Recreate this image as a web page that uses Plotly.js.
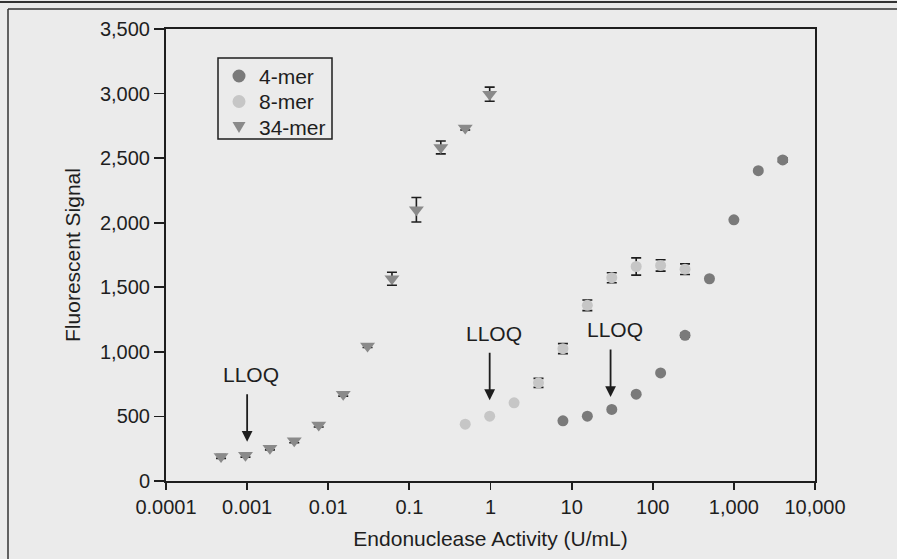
<!DOCTYPE html>
<html>
<head>
<meta charset="utf-8">
<script src="https://cdn.plot.ly/plotly-3.0.1.min.js"></script>
<style>html,body{margin:0;padding:0;background:#ebebeb;}</style>
</head>
<body>
<div id="chart" style="width:897px;height:559px;"></div>
<script>
// Dilution series (U/mL)
const x4mer = [7.8125, 15.625, 31.25, 62.5, 125, 250, 500, 1000, 2000, 4000];
const y4mer = [466, 502, 554, 672, 837, 1128, 1566, 2022, 2403, 2486];
const e4mer = [null, null, null, null, null, 15, null, null, null, 15];

const x8mer = [0.488, 0.977, 1.953, 3.906, 7.8125, 15.625, 31.25, 62.5, 125, 250];
const y8mer = [440, 502, 605, 760, 1025, 1360, 1574, 1661, 1669, 1640];
const e8mer = [null, null, null, 35, 39, 41, 39, 67, 44, 41];

const x34mer = [0.000477, 0.000954, 0.00191, 0.00381, 0.00763, 0.0153, 0.0305, 0.061, 0.122, 0.244, 0.488, 0.977];
const y34mer = [190, 200, 253, 311, 433, 672, 1046, 1566, 2100, 2583, 2733, 2995];
const e34mer = [15, 15, 12, 15, 15, 15, 12, 50, 95, 50, 15, 55];

const seriesNames = ['4-mer', '8-mer', '34-mer'];
const seriesColors = ['#7a7a7a', '#c6c6c6', '#8a8a8a'];

const xTickVals = [0.0001, 0.001, 0.01, 0.1, 1, 10, 100, 1000, 10000];
const xTickText = ['0.0001', '0.001', '0.01', '0.1', '1', '10', '100', '1,000', '10,000'];

// LLOQ markers: x position (U/mL) and arrow tip signal
const lloqX = [0.001, 0.977, 30.2];
const lloqY = [304, 626, 651];
const lloqLabel = ['LLOQ', 'LLOQ', 'LLOQ'];

const FONT = 'Liberation Sans, Arial, Helvetica, sans-serif';
const INK = '#1e1e1e';

function errs(arr) { return {type: 'data', array: arr.map(v => v === null ? NaN : v), visible: true, color: INK, thickness: 1.6, width: 5}; }

const traces = [
  {x: x4mer, y: y4mer, name: seriesNames[0], mode: 'markers', type: 'scatter',
   marker: {symbol: 'circle', size: 11, color: seriesColors[0]}, error_y: errs(e4mer)},
  {x: x8mer, y: y8mer, name: seriesNames[1], mode: 'markers', type: 'scatter',
   marker: {symbol: 'circle', size: 11, color: seriesColors[1]}, error_y: errs(e8mer)},
  {x: x34mer, y: y34mer, name: seriesNames[2], mode: 'markers', type: 'scatter',
   marker: {symbol: 'triangle-down', size: 13, color: seriesColors[2]}, error_y: errs(e34mer)}
];

const annotations = [];
for (let i = 0; i < lloqX.length; i++) {
  annotations.push({x: Math.log10(lloqX[i]), y: lloqY[i], xref: 'x', yref: 'y', text: '',
    showarrow: true, axref: 'pixel', ayref: 'pixel', ax: 0, ay: -49,
    arrowhead: 2, arrowsize: 1.2, arrowwidth: 1.8, arrowcolor: INK});
  annotations.push({x: Math.log10(lloqX[i]), y: lloqY[i], xref: 'x', yref: 'y', text: lloqLabel[i],
    showarrow: false, xshift: 4, yshift: 67, font: {family: FONT, size: 21, color: INK}});
}

// plot area: x 166..815, y 29..481 (px)
function px(x) { return (x - 166) / 649; }
function py(y) { return (481 - y) / 452; }
const shapes = [
  {type: 'line', xref: 'paper', yref: 'paper', x0: px(0), x1: px(897), y0: py(2), y1: py(2), line: {color: '#333', width: 2}},
  {type: 'line', xref: 'paper', yref: 'paper', x0: px(8), x1: px(897), y0: py(9), y1: py(9), line: {color: '#333', width: 1.5}},
  {type: 'line', xref: 'paper', yref: 'paper', x0: px(8), x1: px(8), y0: py(9), y1: py(559), line: {color: '#333', width: 1.5}},
  // legend box
  {type: 'rect', xref: 'paper', yref: 'paper', x0: px(218), x1: px(332), y0: py(58), y1: py(139), line: {color: INK, width: 1.5}}
];

// legend entries (manual, to match the compact spacing)
const legY = [76, 101.5, 127];
const legMX = 239;
for (let i = 0; i < 3; i++) {
  annotations.push({x: px(257), y: py(legY[i]), xref: 'paper', yref: 'paper', text: seriesNames[i],
    showarrow: false, xanchor: 'left', yanchor: 'middle', font: {family: FONT, size: 21, color: INK}});
  if (i < 2) {
    shapes.push({type: 'circle', xref: 'paper', yref: 'paper', x0: px(legMX - 6.5), x1: px(legMX + 6.5),
      y0: py(legY[i] - 6.5), y1: py(legY[i] + 6.5), fillcolor: seriesColors[i], line: {width: 0}});
  } else {
    const yy = legY[i];
    shapes.push({type: 'path', xref: 'paper', yref: 'paper',
      path: 'M ' + px(legMX - 6.5) + ' ' + py(yy - 5) + ' L ' + px(legMX + 6.5) + ' ' + py(yy - 5) +
            ' L ' + px(legMX) + ' ' + py(yy + 6) + ' Z',
      fillcolor: seriesColors[i], line: {width: 0}});
  }
}

const layout = {
  width: 897, height: 559,
  margin: {l: 166, r: 82, t: 29, b: 78},
  paper_bgcolor: '#ebebeb', plot_bgcolor: '#ebebeb',
  font: {family: FONT, size: 20, color: INK},
  showlegend: false,
  xaxis: {type: 'log', range: [-4, 4], tickmode: 'array', tickvals: xTickVals, ticktext: xTickText,
          showgrid: false, zeroline: false, showline: true, linecolor: INK, linewidth: 2, mirror: true,
          ticks: 'outside', ticklen: 7, tickwidth: 1.8, tickcolor: INK,
          tickfont: {family: FONT, size: 20, color: INK},
          title: {text: 'Endonuclease Activity (U/mL)', font: {family: FONT, size: 21, color: INK}, standoff: 14}},
  yaxis: {range: [0, 3500], tickmode: 'array', tickvals: [0, 500, 1000, 1500, 2000, 2500, 3000, 3500],
          tickformat: ',d',
          showgrid: false, zeroline: false, showline: true, linecolor: INK, linewidth: 2, mirror: true,
          ticks: 'outside', ticklen: 10, tickwidth: 1.8, tickcolor: INK,
          tickfont: {family: FONT, size: 20, color: INK},
          title: {text: 'Fluorescent Signal', font: {family: FONT, size: 21, color: INK}, standoff: 14}},
  annotations: annotations,
  shapes: shapes
};

Plotly.newPlot('chart', traces, layout, {displayModeBar: false, staticPlot: true});
</script>
</body>
</html>
